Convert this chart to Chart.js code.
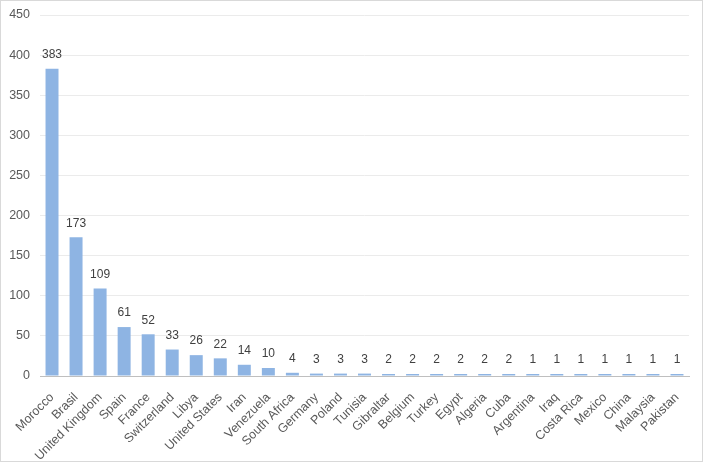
<!DOCTYPE html>
<html lang="en">
  <head>
    <meta charset="UTF-8" />
    <title>Chart</title>
    <script src="https://cdnjs.cloudflare.com/ajax/libs/Chart.js/4.4.0/chart.umd.min.js"></script>
    <style>
      html, body { margin: 0; padding: 0; background: #fff; }
      #wrap { width: 701px; height: 460px; border: 1px solid #d9d9d9; }
    </style>
  </head>
  <body>
    <div id="wrap"><canvas id="chart" width="701" height="460"></canvas></div>

    <script>
      const countries = [
        'Morocco', 'Brasil', 'United Kingdom', 'Spain', 'France', 'Switzerland', 'Libya',
        'United States', 'Iran', 'Venezuela', 'South Africa', 'Germany', 'Poland', 'Tunisia',
        'Gibraltar', 'Belgium', 'Turkey', 'Egypt', 'Algeria', 'Cuba', 'Argentina', 'Iraq',
        'Costa Rica', 'Mexico', 'China', 'Malaysia', 'Pakistan',
      ]
      const counts = [383, 173, 109, 61, 52, 33, 26, 22, 14, 10, 4, 3, 3, 3, 2, 2, 2, 2, 2, 2, 1, 1, 1, 1, 1, 1, 1]

      const FONT = "'Liberation Sans', sans-serif"

      // draw the value above each bar
      const valueLabels = {
        id: 'valueLabels',
        afterDatasetsDraw(chart) {
          const ctx = chart.ctx
          const meta = chart.getDatasetMeta(0)
          ctx.save()
          ctx.fillStyle = '#404040'
          ctx.font = '12px ' + FONT
          ctx.textAlign = 'center'
          ctx.textBaseline = 'bottom'
          meta.data.forEach((bar, i) => {
            ctx.fillText(String(counts[i]), bar.x, bar.y - 8)
          })
          ctx.restore()
        },
      }

      new Chart(document.getElementById('chart').getContext('2d'), {
        type: 'bar',
        data: {
          labels: countries,
          datasets: [
            {
              data: counts,
              backgroundColor: '#8eb4e3',
              categoryPercentage: 1,
              barPercentage: 0.54,
              minBarLength: 2,
            },
          ],
        },
        options: {
          responsive: false,
          animation: false,
          layout: { padding: { top: 14, right: 13, left: 0, bottom: 0 } },
          plugins: { legend: { display: false }, tooltip: { enabled: false } },
          scales: {
            x: {
              grid: { display: false },
              border: { color: '#bfbfbf' },
              ticks: {
                color: '#595959',
                font: { family: FONT, size: 12.5 },
                minRotation: 45,
                maxRotation: 45,
                autoSkip: false,
                padding: 6,
              },
              afterFit(scale) { scale.height = 85 },
            },
            y: {
              min: 0,
              max: 450,
              grid: { color: '#ebebeb', drawTicks: false },
              border: { display: false },
              ticks: {
                stepSize: 50,
                color: '#595959',
                font: { family: FONT, size: 12.5 },
                padding: 10,
              },
              afterFit(scale) {
                scale.width = 39
                scale.paddingTop = 0
              },
            },
          },
        },
        plugins: [valueLabels],
      })
    </script>
  </body>
</html>
